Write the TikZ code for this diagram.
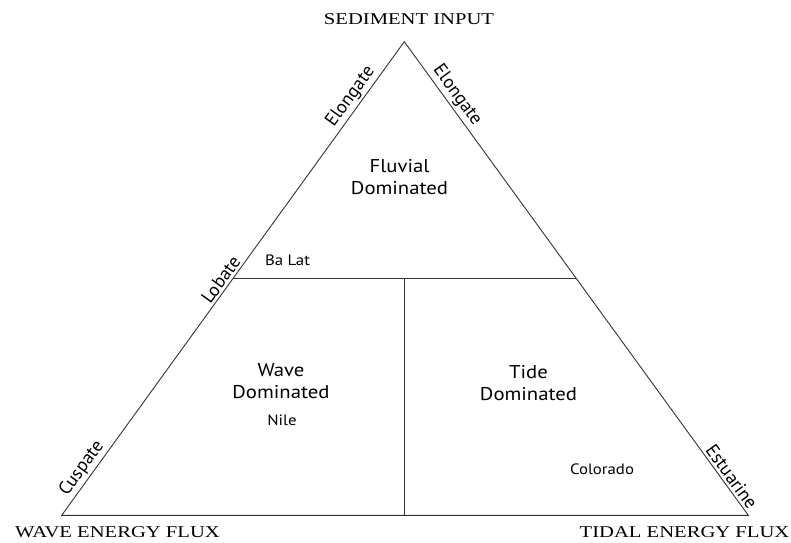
\documentclass[tikz,border=0pt]{standalone}
\usepackage{fontspec}
\usetikzlibrary{calc}
\newfontfamily\capfont{Liberation Serif}[FakeStretch=1.25]
\newfontfamily\labfont{PT Sans}[FakeStretch=1.12]
\newfontfamily\edgefont{PT Sans}
\begin{document}
\begin{tikzpicture}[x=1pt,y=-1pt,
  tri/.style={draw=black!80,line width=0.9pt,line join=miter},
  corner/.style={font=\capfont\fontsize{16.5}{20}\selectfont,inner sep=0pt,anchor=base},
  region/.style={font=\labfont\fontsize{18.5}{22}\selectfont,align=center,inner sep=0pt},
  small/.style={font=\labfont\fontsize{15}{18}\selectfont,inner sep=0pt,anchor=base},
  edgelab/.style={font=\edgefont\fontsize{18.5}{22}\selectfont,inner sep=2.5pt,anchor=south}]
\useasboundingbox (0,0) rectangle (791,542);
\coordinate (A) at (404.3,41.7);
\coordinate (L) at (61.7,515.3);
\coordinate (R) at (748.3,515.3);
\coordinate (M1) at ($(A)!0.5!(L)$);
\coordinate (M2) at ($(A)!0.5!(R)$);
\coordinate (B) at (404.7,515.3);
\draw[tri] (A) -- (L) -- (R) -- cycle;
\draw[tri] (M1) -- (M2);
\draw[tri] (M1 -| B) -- (B);
% corner labels
\node[corner] (sed) at (409,24) {SEDIMENT INPUT};
\node[corner] (wave) at (117.5,537) {WAVE ENERGY FLUX};
\node[corner] (tidal) at (684.5,537) {TIDAL ENERGY FLUX};
% region labels
\node[region] (fluv) at (399.5,177) {Fluvial\\Dominated};
\node[region] (wdom) at (281,381) {Wave\\Dominated};
\node[region] (tdom) at (528.5,383) {Tide\\Dominated};
\node[small] (balat) at (287.5,265) {Ba Lat};
\node[small] (nile) at (282,425) {Nile};
\node[small] (colo) at (602,474) {Colorado};
% edge labels
\node[edgelab,rotate=54.1] (el1) at ($(A)!0.13!(L)$) {Elongate};
\node[edgelab,rotate=54.1] (lob) at ($(A)!0.514!(L)$) {Lobate};
\node[edgelab,rotate=54.1] (cus) at ($(A)!0.915!(L)$) {Cuspate};
\node[edgelab,rotate=-54] (el2) at ($(A)!0.127!(R)$) {Elongate};
\node[edgelab,rotate=-54] (est) at ($(A)!0.93!(R)$) {Estuarine};
\end{tikzpicture}
\end{document}
